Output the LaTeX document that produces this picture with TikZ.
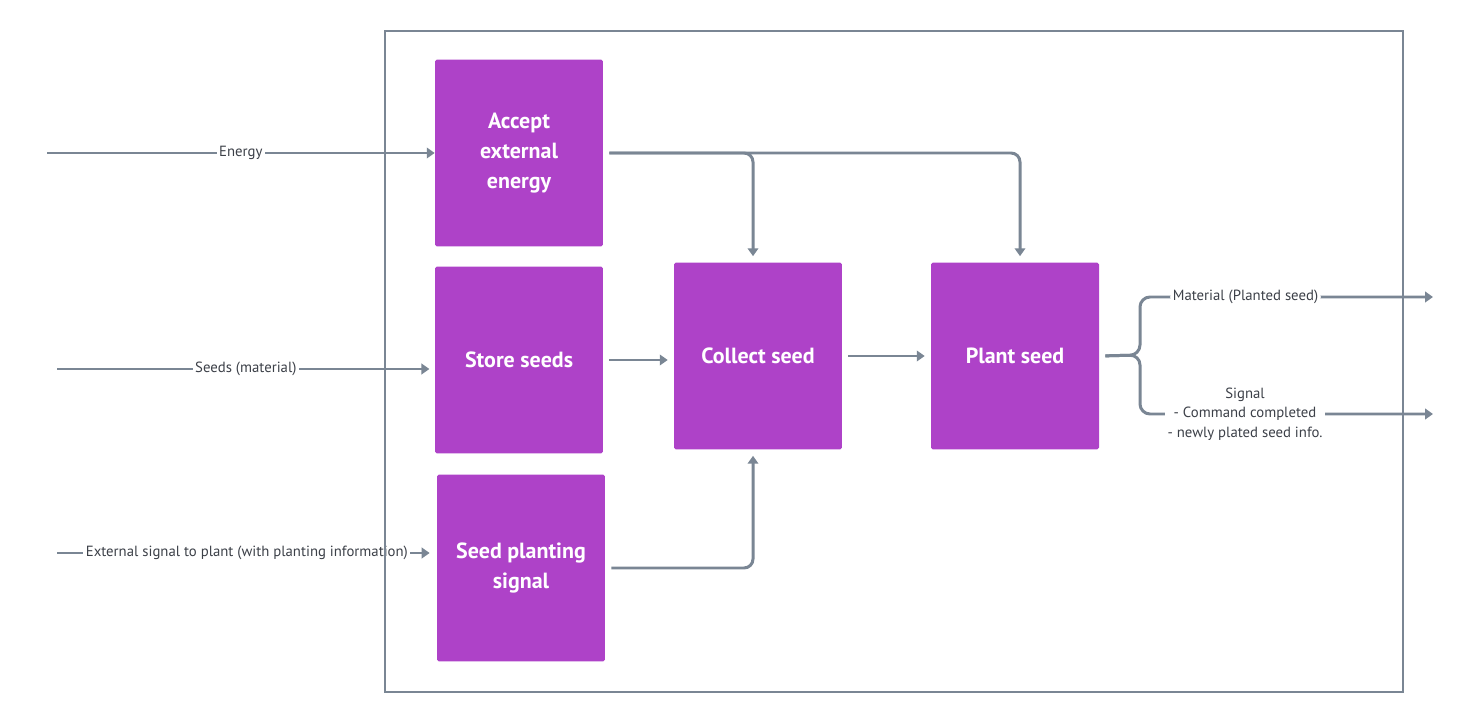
\documentclass[tikz,border=0pt]{standalone}
\usepackage{fontspec}
\setmainfont{PT Sans}
\usetikzlibrary{arrows.meta}
\definecolor{boxpurple}{RGB}{174,66,200}
\definecolor{linegray}{RGB}{122,134,148}
\definecolor{textgray}{RGB}{60,64,72}

\begin{document}
\begin{tikzpicture}[x=0.02cm, y=-0.02cm]
	\tikzset{fn/.style={fill=boxpurple, rounded corners=1pt, minimum width=3.36cm, minimum height=3.74cm, text=white, font=\bfseries\fontsize{12.5}{17}\selectfont, align=center, inner sep=0pt},
		ln/.style={draw=linegray, line width=1.7pt, -{Triangle[length=4.5pt,width=6pt]}},
		lbl/.style={fill=white, inner sep=1.5pt, text=textgray, font=\fontsize{8.4}{11}\selectfont, align=center}};

	\useasboundingbox (0,0) rectangle (1466,712);

	\node[fn] (accept) at (519,153) {Accept\\external\\energy};
	\node[fn] (store) at (519,360) {Store seeds};
	\node[fn] (signal) at (521,568) {Seed planting\\signal};
	\node[fn] (collect) at (758,356) {Collect seed};
	\node[fn] (plant) at (1015,356) {Plant seed};

	\coordinate (energysrc) at (47,153);
	\coordinate (seedsrc) at (57,369);
	\coordinate (extsrc) at (57,553);
	\coordinate (split) at (1140,355);
	\coordinate (matout) at (1433,297);
	\coordinate (sigout) at (1433,414);

	\draw[ln] (energysrc) -- node[lbl] {Energy} (accept.west);
	\draw[ln, shorten >=3pt] (seedsrc) -- node[lbl] {Seeds (material)} (seedsrc -| store.west);
	\draw[ln, shorten >=4pt] (extsrc) -- node[lbl] {External signal to plant (with planting information)} (extsrc -| signal.west);

	\draw[ln, rounded corners=0.18cm, shorten <=3.4pt, shorten >=3.4pt] (accept.east) -| ([xshift=-0.1cm]collect.north);
	\draw[ln, rounded corners=0.18cm, shorten <=3.4pt, shorten >=3.4pt] (accept.east) -| ([xshift=0.1cm]plant.north);

	\draw[ln, shorten <=3.4pt, shorten >=3.4pt] (store.east) -- (store.east -| collect.west);
	\draw[ln, shorten <=3.4pt, shorten >=3.4pt] (collect) -- (plant);
	\draw[ln, rounded corners=0.18cm, shorten <=3.4pt, shorten >=3.4pt] (signal.east) -| ([xshift=-0.1cm]collect.south);

	\draw[ln, rounded corners=0.2cm, shorten <=3.4pt] (plant.east) -- (split) |- node[lbl, pos=0.68] {Material (Planted seed)} (matout);
	\draw[ln, rounded corners=0.2cm, shorten <=3.4pt] (plant.east) -- (split) |- (sigout);
	\node[lbl] (siglbl) at (1245,414) {Signal\\- Command completed\\- newly plated seed info.};

	% system boundary
	\draw[linegray, line width=0.9pt] (385,31) rectangle (1403,692);
\end{tikzpicture}
\end{document}
